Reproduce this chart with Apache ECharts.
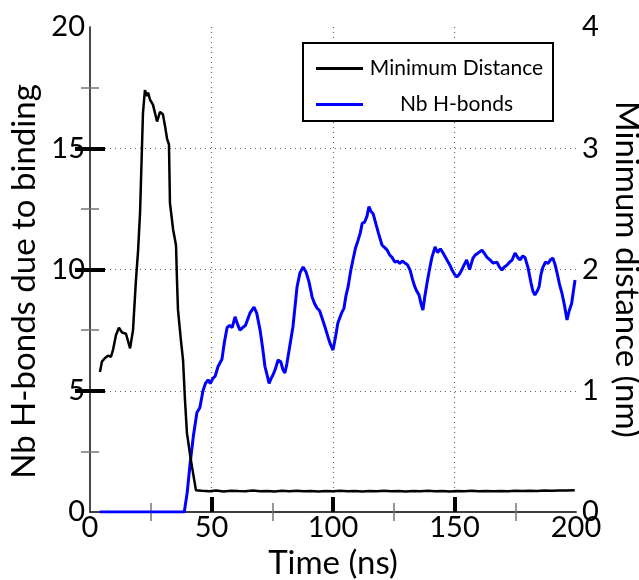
<!DOCTYPE html>
<html>
<head>
<meta charset="utf-8">
<script src="https://cdn.jsdelivr.net/npm/echarts@6/dist/echarts.min.js"></script>
<style>
  html, body { margin: 0; padding: 0; background: #fff; }
  #chart { width: 639px; height: 580px; }
</style>
</head>
<body>
<div id="chart"></div>
<script>
// Minimum distance between the partners (nm, right axis)
const distTime = [4.1, 4.9, 6.2, 7.4, 8.6, 9.5, 10.7, 11.9, 13.2, 14.8, 16.5, 17.7, 18.9, 19.8, 20.6, 21.8, 22.6, 23.5, 23.9, 24.7, 25.9, 27.6, 28.8, 30.0, 30.9, 31.7, 32.5, 32.9, 34.2, 35.4, 35.8, 36.2, 37.4, 38.3, 39.1, 39.9, 41.2, 42.0, 43.6,
  46, 49, 52, 55, 58, 61, 64, 67, 70, 73, 76, 79, 82, 85, 88, 91, 94, 97, 100, 103, 106, 109, 112, 115, 118, 121, 124, 127, 130, 133, 136, 139, 142, 145, 148, 151, 154, 157, 160, 163, 166, 169, 172, 175, 178, 181, 184, 187, 190, 193, 196, 199.5];
const distValue = [1.155, 1.24, 1.27, 1.29, 1.28, 1.34, 1.46, 1.52, 1.48, 1.47, 1.35, 1.50, 1.91, 2.16, 2.47, 3.29, 3.48, 3.43, 3.46, 3.40, 3.36, 3.22, 3.30, 3.28, 3.18, 3.08, 3.03, 2.55, 2.33, 2.20, 1.91, 1.67, 1.42, 1.25, 0.92, 0.65, 0.47, 0.37, 0.18,
  0.175, 0.172, 0.178, 0.170, 0.176, 0.173, 0.171, 0.177, 0.172, 0.174, 0.170, 0.175, 0.172, 0.176, 0.171, 0.173, 0.170, 0.174, 0.172, 0.175, 0.171, 0.173, 0.170, 0.174, 0.172, 0.176, 0.171, 0.173, 0.170, 0.174, 0.172, 0.175, 0.171, 0.173, 0.170, 0.174, 0.172, 0.175, 0.171, 0.173, 0.171, 0.174, 0.172, 0.175, 0.173, 0.176, 0.174, 0.177, 0.175, 0.178, 0.177, 0.180];

// Number of H-bonds formed upon binding (left axis)
const hbTime = [4, 38.8, 40, 41.2, 42.5, 44, 45.2, 46.5, 47.5, 48.6, 49.5, 50.5, 51.5, 52.7, 54.3, 55.3, 56.4, 57.5, 58.5, 59.7, 60.5, 61.7, 62.8, 64, 65.8, 67.5, 68.6, 70, 71, 72, 73, 73.7, 74.5, 75.3, 76.3, 77.4, 78.5, 79.3, 80.2, 81, 82.3, 83.5, 84.3, 85.2, 86.4, 87.7, 88.9, 90.1, 91.4, 92.4, 93.4, 94.5, 95.5, 96.7, 98, 99, 100, 101, 102, 103.5, 104.5, 105.3, 106.2, 107.2, 108.2, 109.3, 110.3, 111.2, 112, 113, 114, 114.8, 115.6, 116.5, 117.6, 118.7, 120.2, 121.3, 122.3, 123.3, 124.3, 125.5, 126.5, 127.5, 128.5, 129.6, 130.6, 131.7, 132.7, 133.7, 134.5, 135.4, 136.2, 137, 137.8, 138.7, 139.7, 140.7, 142, 143, 144.2, 145.3, 146.9, 148, 149, 150, 151, 152, 153, 154, 155, 156.2, 157.6, 158.6, 159.7, 160.5, 161.3, 162.4, 163.4, 164.6, 165.8, 167.5, 168.5, 169.5, 170.5, 171.6, 172.6, 173.7, 174.9, 176, 177, 178, 179, 180.2, 181.5, 182.3, 183.1, 184, 184.8, 185.6, 186.4, 187.4, 188.5, 189.5, 190.5, 191.4, 192.2, 193.2, 194.2, 195.3, 196.3, 197.2, 198.2, 199.6];
const hbValue = [0, 0, 0.8, 2.0, 3.1, 4.1, 4.3, 5.0, 5.3, 5.45, 5.3, 5.5, 5.6, 6.0, 6.3, 7.0, 7.6, 7.7, 7.6, 8.05, 7.8, 7.5, 7.6, 7.7, 8.2, 8.45, 8.2, 7.5, 6.8, 6.0, 5.6, 5.3, 5.5, 5.65, 5.9, 6.27, 6.2, 5.9, 5.73, 6.1, 6.9, 7.63, 8.4, 9.28, 9.86, 10.1, 9.9, 9.5, 8.87, 8.6, 8.41, 8.3, 8.0, 7.63, 7.2, 6.9, 6.68, 7.2, 7.79, 8.2, 8.4, 8.9, 9.28, 9.9, 10.39, 10.9, 11.2, 11.5, 11.9, 11.95, 12.2, 12.6, 12.4, 12.3, 11.9, 11.5, 11.0, 10.9, 10.8, 10.6, 10.5, 10.3, 10.35, 10.25, 10.35, 10.27, 10.2, 9.98, 9.6, 9.28, 9.1, 8.95, 8.6, 8.33, 8.9, 9.44, 10.0, 10.5, 10.93, 10.7, 10.85, 10.68, 10.39, 10.2, 9.98, 9.8, 9.69, 9.8, 9.98, 10.2, 10.39, 10.0, 10.47, 10.6, 10.68, 10.6, 10.8, 10.65, 10.5, 10.4, 10.27, 10.3, 10.1, 9.98, 10.1, 10.18, 10.3, 10.39, 10.68, 10.5, 10.39, 10.55, 10.5, 10.1, 9.44, 9.1, 8.95, 9.1, 9.28, 9.8, 10.1, 10.3, 10.25, 10.4, 10.47, 10.2, 9.86, 9.4, 9.03, 8.5, 7.92, 8.3, 8.6, 9.57];

// Axis ticks
const xMajorTicks = [50, 100, 150];
const yLeftMajorTicks = [5, 10, 15];
const yRightMajorTicks = [1, 2, 3];

const seriesNames = ['Minimum Distance', 'Nb H-bonds'];
const xTitle = 'Time (ns)';
const yLeftTitle = 'Nb H-bonds due to binding';
const yRightTitle = 'Minimum distance (nm)';

const FONT = 'Lato, "Open Sans", sans-serif';

const chart = echarts.init(document.getElementById('chart'), null, { renderer: 'canvas' });

const tickLabel = { color: '#000', fontSize: 29, fontFamily: FONT };
const axisLine = { show: true, lineStyle: { color: '#333', width: 1.5 } };
const majorTick = vals => ({ show: true, inside: true, length: 15, customValues: vals, lineStyle: { color: '#000', width: 4 } });
const minorTick = { show: true, splitNumber: 2, length: 9, lineStyle: { color: '#777', width: 1.5 } };
const dotted = { show: true, lineStyle: { color: '#666', type: [1, 4], width: 1.2 } };

chart.setOption({
  animation: false,
  backgroundColor: '#fff',
  grid: { left: 90, right: 63, top: 27, bottom: 68, containLabel: false, outerBoundsMode: 'none' },
  legend: {
    left: 303, top: 43,
    orient: 'vertical',
    padding: [15, 8, 6, 13],
    itemGap: 15,
    itemWidth: 47,
    itemHeight: 3,
    borderColor: '#000',
    borderWidth: 2,
    backgroundColor: '#fff',
    data: seriesNames.map(n => ({ name: n, icon: 'rect' })),
    formatter: n => '{t|' + n + '}',
    textStyle: {
      rich: { t: { width: 177, align: 'center', fontSize: 21, lineHeight: 22, fontFamily: FONT, color: '#000' } }
    }
  },
  xAxis: [
    {
      type: 'value', min: 0, max: 200, interval: 50, position: 'bottom',
      name: xTitle, nameLocation: 'middle', nameGap: 31,
      nameTextStyle: { fontSize: 33, fontFamily: FONT, color: '#000' },
      axisLine: axisLine,
      axisTick: majorTick(xMajorTicks),
      minorTick: minorTick,
      axisLabel: Object.assign({ margin: 1 }, tickLabel),
      splitLine: dotted,
      minorSplitLine: { show: false }
    },
    {
      type: 'value', min: 0, max: 200, interval: 50, position: 'top',
      axisLine: axisLine,
      axisTick: { show: false, inside: true },
      minorTick: minorTick,
      axisLabel: { show: false },
      splitLine: { show: false }
    }
  ],
  yAxis: [
    {
      type: 'value', min: 0, max: 20, interval: 5, position: 'left',
      name: yLeftTitle, nameLocation: 'middle', nameGap: 42, nameRotate: 90,
      nameTextStyle: { fontSize: 33, fontFamily: FONT, color: '#000', padding: [0, 24, 0, 0] },
      axisLine: Object.assign({}, axisLine, { lineStyle: { color: '#666', width: 1.5 } }),
      axisTick: majorTick(yLeftMajorTicks),
      minorTick: minorTick,
      axisLabel: Object.assign({ margin: 5 }, tickLabel),
      splitLine: dotted
    },
    {
      type: 'value', min: 0, max: 4, interval: 1, position: 'right',
      name: yRightTitle, nameLocation: 'middle', nameGap: 29, nameRotate: -90,
      nameTextStyle: { fontSize: 33, fontFamily: FONT, color: '#000' },
      axisLine: axisLine,
      axisTick: majorTick(yRightMajorTicks),
      minorTick: minorTick,
      axisLabel: Object.assign({ margin: 6 }, tickLabel),
      splitLine: { show: false }
    }
  ],
  series: [
    {
      name: seriesNames[0], type: 'line', xAxisIndex: 0, yAxisIndex: 1,
      showSymbol: false, symbol: 'none',
      lineStyle: { color: '#000', width: 2.5 },
      itemStyle: { color: '#000' },
      data: distTime.map((t, i) => [t, distValue[i]]),
      z: 3
    },
    {
      name: seriesNames[1], type: 'line', xAxisIndex: 0, yAxisIndex: 0,
      showSymbol: false, symbol: 'none',
      lineStyle: { color: '#0000ff', width: 3 },
      itemStyle: { color: '#0000ff' },
      data: hbTime.map((t, i) => [t, hbValue[i]]),
      z: 2
    }
  ]
});
</script>
</body>
</html>
